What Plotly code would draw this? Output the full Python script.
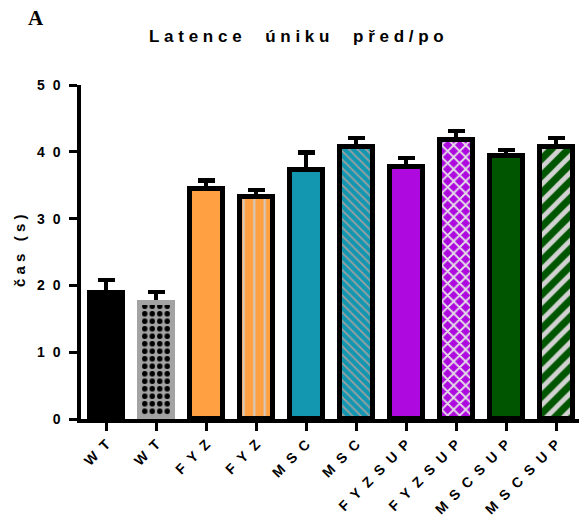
import plotly.graph_objects as go

NB = "\u00a0"

# Group labels (letter-spaced as printed on the axis)
group_names = ["WT", "WT", "FYZ", "FYZ", "MSC", "MSC",
               "FYZSUP", "FYZSUP", "MSCSUP", "MSCSUP"]
groups = [(NB * 2).join(name) for name in group_names]
# Mean escape latency (s) and SEM for each group
means = [18.9, 17.4, 34.4, 33.2, 37.3, 40.7, 37.8, 41.8, 39.3, 40.7]
sems = [1.9, 1.6, 1.3, 1.1, 2.6, 1.4, 1.3, 1.3, 1.0, 1.4]

y_ticks = [0, 10, 20, 30, 40, 50]
y_tick_text = [(NB * 2).join(str(v)) for v in y_ticks]

# Bar styling: base colour, hatch shape, hatch colour, hatch size, hatch coverage, outline
base_colors = ["#000000", "#A3A3A3", "#FFA142", "#FFA142", "#1397B1", "#1397B1",
               "#AE0ADF", "#AE0ADF", "#005600", "#005600"]
hatch_shapes = ["", ".", "", "|", "", "\\", "", "x", "", "/"]
hatch_colors = ["#000000", "#000000", "#FFA142", "#CFCFCF", "#1397B1", "#A0A0A0",
                "#AE0ADF", "#E4E0E6", "#005600", "#D2D2D2"]
hatch_sizes = [8, 7.5, 8, 10.5, 6, 6, 8, 8.5, 8, 12]
hatch_solidity = [0.3, 0.42, 0.3, 0.18, 0.25, 0.28, 0.3, 0.38, 0.3, 0.4]
outline_colors = ["#000000", "#A3A3A3"] + ["#000000"] * 8

x = list(range(len(group_names)))

fig = go.Figure()

# Error bars sit underneath the bars so only the upper half shows
fig.add_trace(go.Bar(
    x=x, y=means, width=0.66,
    marker=dict(color="rgba(0,0,0,0)", line=dict(width=0)),
    error_y=dict(type="data", array=sems, symmetric=True,
                 color="#000000", thickness=4.5, width=8.5),
    hoverinfo="skip", showlegend=False,
))

# One bar trace per group so every bar keeps its own fill and hatch
for i in x:
    fig.add_trace(go.Bar(
        x=[i], y=[means[i]], width=0.66,
        marker=dict(
            color=base_colors[i],
            line=dict(color=outline_colors[i], width=5),
            pattern=dict(shape=hatch_shapes[i], fgcolor=hatch_colors[i],
                         fgopacity=1, size=hatch_sizes[i],
                         solidity=hatch_solidity[i], fillmode="overlay"),
        ),
        showlegend=False,
    ))

title_text = (NB * 5).join(NB.join(w) for w in ["Latence", "úniku", "před/po"])
ylabel_text = (NB * 3).join(NB.join(w) for w in ["čas", "(s)"])

fig.update_layout(
    width=579, height=527,
    margin=dict(l=81, r=0, t=85, b=108),
    paper_bgcolor="white", plot_bgcolor="white",
    barmode="overlay", bargap=0,
    font=dict(family="Liberation Sans, Arial, sans-serif", color="#000000"),
    xaxis=dict(
        range=[-0.5, 9.46], tickmode="array", tickvals=x, ticktext=groups,
        tickangle=-45, tickfont=dict(size=14, weight="bold"),
        showline=True, linecolor="#000000", linewidth=3.5,
        ticks="outside", ticklen=8, tickwidth=3, tickcolor="#000000",
        showgrid=False, zeroline=False, fixedrange=True,
    ),
    yaxis=dict(
        range=[0, 50], tickmode="array", tickvals=y_ticks, ticktext=y_tick_text,
        tickfont=dict(size=14, weight="bold"),
        showline=True, linecolor="#000000", linewidth=3.5,
        ticks="outside", ticklen=8, tickwidth=3, tickcolor="#000000",
        ticklabelstandoff=6,
        showgrid=False, zeroline=False, fixedrange=True,
    ),
    annotations=[
        dict(text=title_text, xref="paper", yref="paper", x=0.433, y=1.146,
             xanchor="center", yanchor="middle", showarrow=False,
             font=dict(size=17, weight="bold")),
        dict(text=ylabel_text, xref="paper", yref="paper", x=-0.1225, y=0.506,
             xanchor="center", yanchor="middle", textangle=-90, showarrow=False,
             font=dict(size=15, weight="bold")),
        dict(text="A", xref="paper", yref="paper", x=-0.091, y=1.2,
             xanchor="center", yanchor="middle", showarrow=False,
             font=dict(size=21, weight="bold",
                       family="Liberation Serif, Times New Roman, serif")),
    ],
)

fig.write_html("out.html")
